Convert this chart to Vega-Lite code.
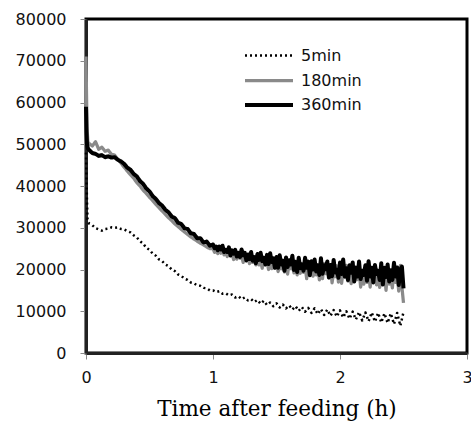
{
  "$schema": "https://vega.github.io/schema/vega-lite/v6.json",
  "width": 381,
  "height": 334,
  "autosize": {"type": "none"},
  "padding": {"left": 86, "top": 19, "right": 4, "bottom": 73},
  "background": "white",
  "config": {
    "view": {"stroke": "#000", "strokeWidth": 3},
    "font": "DejaVu Sans",
    "axis": {"grid": false, "domainColor": "#222", "domainWidth": 3, "tickColor": "#888", "tickSize": 6, "tickWidth": 1, "labelFont": "DejaVu Sans", "labelFontSize": 16, "labelColor": "#111"}
  },
  "data": {"values": [
    {"s":"5min","t":0,"v":48000},{"s":"5min","t":0.004,"v":42000},{"s":"5min","t":0.008,"v":36000},{"s":"5min","t":0.012,"v":32000},{"s":"5min","t":0.02,"v":31300},
    {"s":"5min","t":0.025,"v":31000},{"s":"5min","t":0.05,"v":30600},{"s":"5min","t":0.075,"v":29900},{"s":"5min","t":0.1,"v":29600},{"s":"5min","t":0.125,"v":29300},{"s":"5min","t":0.15,"v":29700},{"s":"5min","t":0.175,"v":29800},{"s":"5min","t":0.2,"v":30100},{"s":"5min","t":0.225,"v":30000},{"s":"5min","t":0.25,"v":30100},{"s":"5min","t":0.275,"v":29700},{"s":"5min","t":0.3,"v":29600},{"s":"5min","t":0.325,"v":29200},{"s":"5min","t":0.35,"v":28900},{"s":"5min","t":0.375,"v":28200},{"s":"5min","t":0.4,"v":27700},{"s":"5min","t":0.425,"v":26800},{"s":"5min","t":0.45,"v":26200},{"s":"5min","t":0.475,"v":25200},{"s":"5min","t":0.5,"v":24700},{"s":"5min","t":0.525,"v":23800},{"s":"5min","t":0.55,"v":23300},{"s":"5min","t":0.575,"v":22400},{"s":"5min","t":0.6,"v":22000},{"s":"5min","t":0.625,"v":21200},{"s":"5min","t":0.65,"v":20800},{"s":"5min","t":0.675,"v":20000},{"s":"5min","t":0.7,"v":19600},{"s":"5min","t":0.725,"v":18800},{"s":"5min","t":0.75,"v":18500},{"s":"5min","t":0.775,"v":17800},{"s":"5min","t":0.8,"v":17500},{"s":"5min","t":0.825,"v":16900},{"s":"5min","t":0.85,"v":16700},{"s":"5min","t":0.875,"v":16200},{"s":"5min","t":0.9,"v":16100},{"s":"5min","t":0.925,"v":15600},{"s":"5min","t":0.95,"v":15500},{"s":"5min","t":0.975,"v":15000},{"s":"5min","t":1.0,"v":15000},
    {"s":"5min","t":1.025,"v":14600},{"s":"5min","t":1.05,"v":14800},{"s":"5min","t":1.075,"v":14200},{"s":"5min","t":1.1,"v":14300},{"s":"5min","t":1.125,"v":13800},{"s":"5min","t":1.15,"v":14000},{"s":"5min","t":1.175,"v":13300},{"s":"5min","t":1.2,"v":13600},{"s":"5min","t":1.225,"v":12900},{"s":"5min","t":1.25,"v":13300},{"s":"5min","t":1.275,"v":12600},{"s":"5min","t":1.3,"v":12900},{"s":"5min","t":1.325,"v":12200},{"s":"5min","t":1.35,"v":12700},{"s":"5min","t":1.375,"v":11800},{"s":"5min","t":1.4,"v":12500},{"s":"5min","t":1.425,"v":11500},{"s":"5min","t":1.45,"v":12100},{"s":"5min","t":1.475,"v":11200},{"s":"5min","t":1.5,"v":11900},{"s":"5min","t":1.525,"v":10900},{"s":"5min","t":1.55,"v":11600},{"s":"5min","t":1.575,"v":10700},{"s":"5min","t":1.6,"v":11400},{"s":"5min","t":1.625,"v":10400},{"s":"5min","t":1.65,"v":11200},{"s":"5min","t":1.675,"v":10100},{"s":"5min","t":1.7,"v":11000},{"s":"5min","t":1.725,"v":9900},{"s":"5min","t":1.75,"v":10800},{"s":"5min","t":1.775,"v":9600},{"s":"5min","t":1.8,"v":10700},{"s":"5min","t":1.825,"v":9300},{"s":"5min","t":1.85,"v":10500},{"s":"5min","t":1.875,"v":9100},{"s":"5min","t":1.9,"v":10400},{"s":"5min","t":1.925,"v":8900},{"s":"5min","t":1.95,"v":10300},{"s":"5min","t":1.975,"v":8700},{"s":"5min","t":2.0,"v":10200},{"s":"5min","t":2.025,"v":8500},{"s":"5min","t":2.05,"v":10000},{"s":"5min","t":2.075,"v":8200},{"s":"5min","t":2.1,"v":9900},{"s":"5min","t":2.125,"v":8000},{"s":"5min","t":2.15,"v":9800},{"s":"5min","t":2.175,"v":7800},{"s":"5min","t":2.2,"v":9700},{"s":"5min","t":2.225,"v":7600},{"s":"5min","t":2.25,"v":9700},{"s":"5min","t":2.275,"v":7500},{"s":"5min","t":2.3,"v":9600},{"s":"5min","t":2.325,"v":7300},{"s":"5min","t":2.35,"v":9500},{"s":"5min","t":2.375,"v":7200},{"s":"5min","t":2.4,"v":9500},{"s":"5min","t":2.425,"v":6900},{"s":"5min","t":2.45,"v":9600},{"s":"5min","t":2.475,"v":6500},{"s":"5min","t":2.5,"v":9800},

    {"s":"180min","t":0,"v":71000},{"s":"180min","t":0.004,"v":62000},{"s":"180min","t":0.008,"v":54000},{"s":"180min","t":0.015,"v":50500},
    {"s":"180min","t":0.025,"v":50200},{"s":"180min","t":0.05,"v":49600},{"s":"180min","t":0.075,"v":50600},{"s":"180min","t":0.1,"v":48800},{"s":"180min","t":0.125,"v":49300},{"s":"180min","t":0.15,"v":48300},{"s":"180min","t":0.175,"v":48600},{"s":"180min","t":0.2,"v":47600},{"s":"180min","t":0.225,"v":47400},{"s":"180min","t":0.25,"v":46400},{"s":"180min","t":0.275,"v":45500},{"s":"180min","t":0.3,"v":44500},{"s":"180min","t":0.325,"v":43600},{"s":"180min","t":0.35,"v":42700},{"s":"180min","t":0.375,"v":41900},{"s":"180min","t":0.4,"v":40800},{"s":"180min","t":0.425,"v":40000},{"s":"180min","t":0.45,"v":39000},{"s":"180min","t":0.475,"v":38200},{"s":"180min","t":0.5,"v":37300},{"s":"180min","t":0.525,"v":36500},{"s":"180min","t":0.55,"v":35600},{"s":"180min","t":0.575,"v":34800},{"s":"180min","t":0.6,"v":34000},{"s":"180min","t":0.625,"v":33200},{"s":"180min","t":0.65,"v":32400},{"s":"180min","t":0.675,"v":31700},{"s":"180min","t":0.7,"v":30900},{"s":"180min","t":0.725,"v":30300},{"s":"180min","t":0.75,"v":29600},{"s":"180min","t":0.775,"v":29000},{"s":"180min","t":0.8,"v":28400},{"s":"180min","t":0.825,"v":27800},{"s":"180min","t":0.85,"v":27300},{"s":"180min","t":0.875,"v":26800},{"s":"180min","t":0.9,"v":26300},{"s":"180min","t":0.925,"v":25900},{"s":"180min","t":0.95,"v":25400},{"s":"180min","t":0.975,"v":25000},
    {"s":"180min","t":1.0,"v":25000},{"s":"180min","t":1.0125,"v":24100},{"s":"180min","t":1.025,"v":24600},{"s":"180min","t":1.0375,"v":23800},{"s":"180min","t":1.05,"v":24500},{"s":"180min","t":1.0625,"v":23900},{"s":"180min","t":1.075,"v":24600},{"s":"180min","t":1.0875,"v":23500},{"s":"180min","t":1.1,"v":24000},{"s":"180min","t":1.1125,"v":23100},
    {"s":"180min","t":1.125,"v":24200},{"s":"180min","t":1.1375,"v":23200},{"s":"180min","t":1.15,"v":23800},{"s":"180min","t":1.1625,"v":22400},{"s":"180min","t":1.175,"v":23900},{"s":"180min","t":1.1875,"v":22500},{"s":"180min","t":1.2,"v":23100},{"s":"180min","t":1.2125,"v":22700},{"s":"180min","t":1.225,"v":23400},{"s":"180min","t":1.2375,"v":21700},
    {"s":"180min","t":1.25,"v":22900},{"s":"180min","t":1.2625,"v":22000},{"s":"180min","t":1.275,"v":23400},{"s":"180min","t":1.2875,"v":21400},{"s":"180min","t":1.3,"v":22900},{"s":"180min","t":1.3125,"v":21700},{"s":"180min","t":1.325,"v":22100},{"s":"180min","t":1.3375,"v":21100},{"s":"180min","t":1.35,"v":23000},{"s":"180min","t":1.3625,"v":21100},
    {"s":"180min","t":1.375,"v":22100},{"s":"180min","t":1.3875,"v":20300},{"s":"180min","t":1.4,"v":22600},{"s":"180min","t":1.4125,"v":21200},{"s":"180min","t":1.425,"v":22100},{"s":"180min","t":1.4375,"v":20000},{"s":"180min","t":1.45,"v":21500},{"s":"180min","t":1.4625,"v":20200},{"s":"180min","t":1.475,"v":22600},{"s":"180min","t":1.4875,"v":20400},
    {"s":"180min","t":1.5,"v":22000},{"s":"180min","t":1.5125,"v":19500},{"s":"180min","t":1.525,"v":20800},{"s":"180min","t":1.5375,"v":20200},{"s":"180min","t":1.55,"v":22200},{"s":"180min","t":1.5625,"v":19400},{"s":"180min","t":1.575,"v":21200},{"s":"180min","t":1.5875,"v":18900},{"s":"180min","t":1.6,"v":21600},{"s":"180min","t":1.6125,"v":20200},
    {"s":"180min","t":1.625,"v":20800},{"s":"180min","t":1.6375,"v":19200},{"s":"180min","t":1.65,"v":22000},{"s":"180min","t":1.6625,"v":18700},{"s":"180min","t":1.675,"v":20400},{"s":"180min","t":1.6875,"v":19100},{"s":"180min","t":1.7,"v":21400},{"s":"180min","t":1.7125,"v":19300},{"s":"180min","t":1.725,"v":21000},{"s":"180min","t":1.7375,"v":17800},
    {"s":"180min","t":1.75,"v":20700},{"s":"180min","t":1.7625,"v":19300},{"s":"180min","t":1.775,"v":21400},{"s":"180min","t":1.7875,"v":18400},{"s":"180min","t":1.8,"v":19700},{"s":"180min","t":1.8125,"v":18700},{"s":"180min","t":1.825,"v":21100},{"s":"180min","t":1.8375,"v":17500},{"s":"180min","t":1.85,"v":20000},{"s":"180min","t":1.8625,"v":17800},
    {"s":"180min","t":1.875,"v":21400},{"s":"180min","t":1.8875,"v":19000},{"s":"180min","t":1.9,"v":20000},{"s":"180min","t":1.9125,"v":18000},{"s":"180min","t":1.925,"v":20600},{"s":"180min","t":1.9375,"v":16800},{"s":"180min","t":1.95,"v":19400},{"s":"180min","t":1.9625,"v":18300},{"s":"180min","t":1.975,"v":20900},{"s":"180min","t":1.9875,"v":17000},
    {"s":"180min","t":2.0,"v":20200},{"s":"180min","t":2.0125,"v":16700},{"s":"180min","t":2.025,"v":19700},{"s":"180min","t":2.0375,"v":18200},{"s":"180min","t":2.05,"v":21000},{"s":"180min","t":2.0625,"v":17200},{"s":"180min","t":2.075,"v":20200},{"s":"180min","t":2.0875,"v":16600},{"s":"180min","t":2.1,"v":19000},{"s":"180min","t":2.1125,"v":17500},
    {"s":"180min","t":2.125,"v":20600},{"s":"180min","t":2.1375,"v":17600},{"s":"180min","t":2.15,"v":19800},{"s":"180min","t":2.1625,"v":15800},{"s":"180min","t":2.175,"v":18200},{"s":"180min","t":2.1875,"v":16500},{"s":"180min","t":2.2,"v":20200},{"s":"180min","t":2.2125,"v":16900},{"s":"180min","t":2.225,"v":18800},{"s":"180min","t":2.2375,"v":15800},
    {"s":"180min","t":2.25,"v":19300},{"s":"180min","t":2.2625,"v":17700},{"s":"180min","t":2.275,"v":20500},{"s":"180min","t":2.2875,"v":16300},{"s":"180min","t":2.3,"v":18400},{"s":"180min","t":2.3125,"v":15700},{"s":"180min","t":2.325,"v":19600},{"s":"180min","t":2.3375,"v":16900},{"s":"180min","t":2.35,"v":18700},{"s":"180min","t":2.3625,"v":15000},
    {"s":"180min","t":2.375,"v":20000},{"s":"180min","t":2.3875,"v":16500},{"s":"180min","t":2.4,"v":17800},{"s":"180min","t":2.4125,"v":15600},{"s":"180min","t":2.425,"v":20200},{"s":"180min","t":2.4375,"v":16900},{"s":"180min","t":2.45,"v":19000},{"s":"180min","t":2.4625,"v":14800},{"s":"180min","t":2.475,"v":21000},{"s":"180min","t":2.4875,"v":15800},{"s":"180min","t":2.5,"v":12000},

    {"s":"360min","t":0,"v":59000},{"s":"360min","t":0.004,"v":53000},{"s":"360min","t":0.008,"v":50000},{"s":"360min","t":0.015,"v":49000},
    {"s":"360min","t":0.025,"v":48600},{"s":"360min","t":0.05,"v":47900},{"s":"360min","t":0.075,"v":47700},{"s":"360min","t":0.1,"v":47200},{"s":"360min","t":0.125,"v":47400},{"s":"360min","t":0.15,"v":46900},{"s":"360min","t":0.175,"v":47100},{"s":"360min","t":0.2,"v":46800},{"s":"360min","t":0.225,"v":46900},{"s":"360min","t":0.25,"v":46300},{"s":"360min","t":0.275,"v":45900},{"s":"360min","t":0.3,"v":45300},{"s":"360min","t":0.325,"v":44400},{"s":"360min","t":0.35,"v":43900},{"s":"360min","t":0.375,"v":42900},{"s":"360min","t":0.4,"v":42300},{"s":"360min","t":0.425,"v":41200},{"s":"360min","t":0.45,"v":40500},{"s":"360min","t":0.475,"v":39400},{"s":"360min","t":0.5,"v":38700},{"s":"360min","t":0.525,"v":37600},{"s":"360min","t":0.55,"v":36900},{"s":"360min","t":0.575,"v":35900},{"s":"360min","t":0.6,"v":35300},{"s":"360min","t":0.625,"v":34300},{"s":"360min","t":0.65,"v":33700},{"s":"360min","t":0.675,"v":32700},{"s":"360min","t":0.7,"v":32300},{"s":"360min","t":0.725,"v":31200},{"s":"360min","t":0.75,"v":30900},{"s":"360min","t":0.775,"v":29900},{"s":"360min","t":0.8,"v":29700},{"s":"360min","t":0.825,"v":28700},{"s":"360min","t":0.85,"v":28500},{"s":"360min","t":0.875,"v":27500},{"s":"360min","t":0.9,"v":27500},{"s":"360min","t":0.925,"v":26500},{"s":"360min","t":0.95,"v":26700},{"s":"360min","t":0.975,"v":25700},
    {"s":"360min","t":1.0,"v":26000},{"s":"360min","t":1.0125,"v":25100},{"s":"360min","t":1.025,"v":25500},{"s":"360min","t":1.0375,"v":24600},{"s":"360min","t":1.05,"v":25500},{"s":"360min","t":1.0625,"v":24800},{"s":"360min","t":1.075,"v":25700},{"s":"360min","t":1.0875,"v":24200},{"s":"360min","t":1.1,"v":24700},{"s":"360min","t":1.1125,"v":24200},
    {"s":"360min","t":1.125,"v":25300},{"s":"360min","t":1.1375,"v":23400},{"s":"360min","t":1.15,"v":24600},{"s":"360min","t":1.1625,"v":23800},{"s":"360min","t":1.175,"v":24700},{"s":"360min","t":1.1875,"v":23100},{"s":"360min","t":1.2,"v":24000},{"s":"360min","t":1.2125,"v":23000},{"s":"360min","t":1.225,"v":24800},{"s":"360min","t":1.2375,"v":23400},
    {"s":"360min","t":1.25,"v":24000},{"s":"360min","t":1.2625,"v":22200},{"s":"360min","t":1.275,"v":23600},{"s":"360min","t":1.2875,"v":22500},{"s":"360min","t":1.3,"v":24200},{"s":"360min","t":1.3125,"v":22100},{"s":"360min","t":1.325,"v":23000},{"s":"360min","t":1.3375,"v":21500},{"s":"360min","t":1.35,"v":23700},{"s":"360min","t":1.3625,"v":22300},
    {"s":"360min","t":1.375,"v":24000},{"s":"360min","t":1.3875,"v":22000},{"s":"360min","t":1.4,"v":22800},{"s":"360min","t":1.4125,"v":21200},{"s":"360min","t":1.425,"v":23500},{"s":"360min","t":1.4375,"v":21300},{"s":"360min","t":1.45,"v":23900},{"s":"360min","t":1.4625,"v":21800},{"s":"360min","t":1.475,"v":22700},{"s":"360min","t":1.4875,"v":20400},
    {"s":"360min","t":1.5,"v":23000},{"s":"360min","t":1.5125,"v":20400},{"s":"360min","t":1.525,"v":23400},{"s":"360min","t":1.5375,"v":21200},{"s":"360min","t":1.55,"v":22100},{"s":"360min","t":1.5625,"v":19700},{"s":"360min","t":1.575,"v":22900},{"s":"360min","t":1.5875,"v":20600},{"s":"360min","t":1.6,"v":22200},{"s":"360min","t":1.6125,"v":21200},
    {"s":"360min","t":1.625,"v":23300},{"s":"360min","t":1.6375,"v":19900},{"s":"360min","t":1.65,"v":21800},{"s":"360min","t":1.6625,"v":19400},{"s":"360min","t":1.675,"v":22800},{"s":"360min","t":1.6875,"v":20300},{"s":"360min","t":1.7,"v":21200},{"s":"360min","t":1.7125,"v":19700},{"s":"360min","t":1.725,"v":22800},{"s":"360min","t":1.7375,"v":20400},
    {"s":"360min","t":1.75,"v":21900},{"s":"360min","t":1.7625,"v":18600},{"s":"360min","t":1.775,"v":22000},{"s":"360min","t":1.7875,"v":20000},{"s":"360min","t":1.8,"v":22400},{"s":"360min","t":1.8125,"v":19500},{"s":"360min","t":1.825,"v":21000},{"s":"360min","t":1.8375,"v":18700},{"s":"360min","t":1.85,"v":22700},{"s":"360min","t":1.8625,"v":19000},
    {"s":"360min","t":1.875,"v":21000},{"s":"360min","t":1.8875,"v":20100},{"s":"360min","t":1.9,"v":21900},{"s":"360min","t":1.9125,"v":18100},{"s":"360min","t":1.925,"v":21100},{"s":"360min","t":1.9375,"v":18400},{"s":"360min","t":1.95,"v":22300},{"s":"360min","t":1.9625,"v":19300},{"s":"360min","t":1.975,"v":20000},{"s":"360min","t":1.9875,"v":18000},
    {"s":"360min","t":2.0,"v":21700},{"s":"360min","t":2.0125,"v":18900},{"s":"360min","t":2.025,"v":22400},{"s":"360min","t":2.0375,"v":18300},{"s":"360min","t":2.05,"v":20300},{"s":"360min","t":2.0625,"v":17500},{"s":"360min","t":2.075,"v":21000},{"s":"360min","t":2.0875,"v":19200},{"s":"360min","t":2.1,"v":21700},{"s":"360min","t":2.1125,"v":17100},
    {"s":"360min","t":2.125,"v":20400},{"s":"360min","t":2.1375,"v":18300},{"s":"360min","t":2.15,"v":21900},{"s":"360min","t":2.1625,"v":17700},{"s":"360min","t":2.175,"v":19700},{"s":"360min","t":2.1875,"v":18700},{"s":"360min","t":2.2,"v":21000},{"s":"360min","t":2.2125,"v":17300},{"s":"360min","t":2.225,"v":22000},{"s":"360min","t":2.2375,"v":18300},
    {"s":"360min","t":2.25,"v":20400},{"s":"360min","t":2.2625,"v":16900},{"s":"360min","t":2.275,"v":21100},{"s":"360min","t":2.2875,"v":18900},{"s":"360min","t":2.3,"v":19700},{"s":"360min","t":2.3125,"v":17500},{"s":"360min","t":2.325,"v":21500},{"s":"360min","t":2.3375,"v":16400},{"s":"360min","t":2.35,"v":20400},{"s":"360min","t":2.3625,"v":18200},
    {"s":"360min","t":2.375,"v":21200},{"s":"360min","t":2.3875,"v":17100},{"s":"360min","t":2.4,"v":19800},{"s":"360min","t":2.4125,"v":17500},{"s":"360min","t":2.425,"v":21600},{"s":"360min","t":2.4375,"v":18300},{"s":"360min","t":2.45,"v":20500},{"s":"360min","t":2.4625,"v":16300},{"s":"360min","t":2.475,"v":19900},{"s":"360min","t":2.4875,"v":20700},{"s":"360min","t":2.5,"v":15500}
  ]},
  "mark": {"type": "line", "strokeCap": "butt", "strokeJoin": "round"},
  "encoding": {
    "x": {"field": "t", "type": "quantitative", "scale": {"domain": [0, 3], "nice": false},
      "axis": {"values": [0, 1, 2, 3], "format": "d", "labelFlush": false, "labelPadding": 10, "title": "Time after feeding (h)", "titleFont": "DejaVu Serif", "titleFontSize": 21.5, "titleFontWeight": "normal", "titleColor": "#000", "titlePadding": 13}},
    "y": {"field": "v", "type": "quantitative", "scale": {"domain": [0, 80000], "nice": false},
      "axis": {"values": [0, 10000, 20000, 30000, 40000, 50000, 60000, 70000, 80000], "format": "d", "labelPadding": 14, "title": null}},
    "color": {"field": "s", "type": "nominal", "title": null,
      "scale": {"domain": ["5min", "180min", "360min"], "range": ["#000000", "#8a8a8a", "#000000"]},
      "legend": {"orient": "none", "legendX": 173, "legendY": 27, "symbolType": "M-3,0H3", "symbolSize": 256, "symbolStrokeWidth": 3, "labelFont": "DejaVu Sans", "labelFontSize": 16, "labelColor": "#111", "labelOffset": 22, "rowPadding": 6.5, "padding": 0}},
    "strokeDash": {"field": "s", "type": "nominal", "title": null,
      "scale": {"domain": ["5min", "180min", "360min"], "range": [[2, 3], [1, 0], [1, 0]]}},
    "strokeWidth": {"field": "s", "type": "ordinal", "legend": null,
      "scale": {"domain": ["5min", "180min", "360min"], "range": [2.5, 4, 4.5]}}
  }
}
